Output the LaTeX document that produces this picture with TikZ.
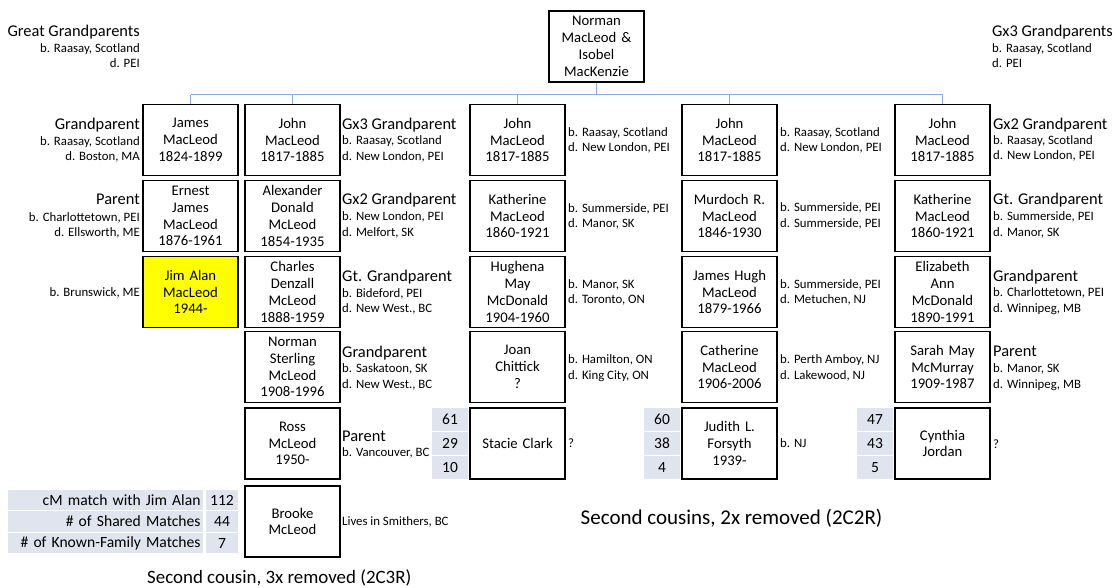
\documentclass[tikz,border=0pt]{standalone}
\usepackage{fontspec}
\setmainfont{Carlito}
\definecolor{linkblue}{HTML}{8EA9DB}
\definecolor{cellgray}{HTML}{DFE4EE}
\definecolor{selfyellow}{HTML}{FFFF00}
\begin{document}
\begin{tikzpicture}[x=1pt,y=-1pt,
  person/.style={draw=black, line width=1.1pt, minimum width=95pt, minimum height=71pt,
    inner sep=0pt, align=center, text width=92pt, font=\fontsize{14.7}{16.8}\selectfont},
  self/.style={person, fill=selfyellow},
  link/.style={draw=linkblue, line width=1pt},
  ttl/.style={inner sep=0pt, text height=11.5pt, text depth=2pt, font=\fontsize{16.4}{19}\selectfont},
  sm/.style={inner sep=0pt, text height=9pt, text depth=1.5pt, font=\fontsize{12.8}{15}\selectfont},
  numcell/.style={fill=cellgray, minimum width=36pt, minimum height=23pt, inner sep=0pt,
    font=\fontsize{15.5}{18}\selectfont},
  keycell/.style={fill=cellgray, minimum height=20.5pt, inner ysep=0pt, inner xsep=2.5pt,
    text width=190pt, align=right, font=\fontsize{15.6}{18}\selectfont},
  keynum/.style={fill=cellgray, minimum width=32pt, minimum height=20.5pt, inner sep=0pt,
    font=\fontsize{15.6}{18}\selectfont},
  caption/.style={inner sep=0pt, font=\fontsize{21}{24}\selectfont},
  Lw/.style={anchor=west}, Le/.style={anchor=east}]
\useasboundingbox (0,0) rectangle (1115,588);

% common ancestors
\node[person] (top) at (596.5,46.5) {Norman\\MacLeod \&\\Isobel\\MacKenzie};

% Jim Alan's line
\node[person] (a1) at (190.5,140) {James\\MacLeod\\1824-1899};
\node[person] (a2) at (190.5,216) {Ernest\\James\\MacLeod\\1876-1961};
\node[self]   (a3) at (190.5,292) {Jim Alan\\MacLeod\\1944-};

% Brooke's line
\node[person] (b1) at (292.5,140) {John\\MacLeod\\1817-1885};
\node[person] (b2) at (292.5,216) {Alexander\\Donald\\McLeod\\1854-1935};
\node[person] (b3) at (292.5,292) {Charles\\Denzall\\McLeod\\1888-1959};
\node[person] (b4) at (292.5,367) {Norman\\Sterling\\McLeod\\1908-1996};
\node[person] (b5) at (292.5,443.5) {Ross\\McLeod\\1950-};
\node[person] (b6) at (292.5,521.5) {Brooke\\McLeod};

% Stacie's line
\node[person] (c1) at (517.5,140) {John\\MacLeod\\1817-1885};
\node[person] (c2) at (517.5,216) {Katherine\\MacLeod\\1860-1921};
\node[person] (c3) at (517.5,292) {Hughena\\May\\McDonald\\1904-1960};
\node[person] (c4) at (517.5,367) {Joan\\Chittick\\?};
\node[person] (c5) at (517.5,443.5) {Stacie Clark};

% Judith's line
\node[person] (d1) at (729.5,140) {John\\MacLeod\\1817-1885};
\node[person] (d2) at (729.5,216) {Murdoch R.\\MacLeod\\1846-1930};
\node[person] (d3) at (729.5,292) {James Hugh\\MacLeod\\1879-1966};
\node[person] (d4) at (729.5,367) {Catherine\\MacLeod\\1906-2006};
\node[person] (d5) at (729.5,443.5) {Judith L.\\Forsyth\\1939-};

% Cynthia's line
\node[person] (e1) at (942.5,140) {John\\MacLeod\\1817-1885};
\node[person] (e2) at (942.5,216) {Katherine\\MacLeod\\1860-1921};
\node[person] (e3) at (942.5,292) {Elizabeth\\Ann\\McDonald\\1890-1991};
\node[person] (e4) at (942.5,367) {Sarah May\\McMurray\\1909-1987};
\node[person] (e5) at (942.5,443.5) {Cynthia\\Jordan};

% family bus from the common ancestors to their children
\coordinate (bus) at (596.5,95);
\draw[link] (top.south) -- (top.south |- bus);
\draw[link] (a1.north |- bus) -- (e1.north |- bus);
\foreach \n in {a1,b1,c1,d1,e1} \draw[link] (\n.north) -- (\n.north |- bus);

% generation labels, top corners
\node[ttl,Le] (gg-t) at (140,32) {Great Grandparents};
\node[sm,Le]  (gg-b) at (140,49) {b. Raasay, Scotland};
\node[sm,Le]  (gg-d) at (140,64) {d. PEI};
\node[ttl,Lw] (g3-t) at (992,32) {Gx3 Grandparents};
\node[sm,Lw]  (g3-b) at (992,49) {b. Raasay, Scotland};
\node[sm,Lw]  (g3-d) at (992,64) {d. PEI};

% labels left of Jim Alan's line
\node[ttl,Le] (a1-t) at (140,124.5) {Grandparent};
\node[sm,Le]  (a1-b) at (140,141.5) {b. Raasay, Scotland};
\node[sm,Le]  (a1-d) at (140,157) {d. Boston, MA};
\node[ttl,Le] (a2-t) at (140,200) {Parent};
\node[sm,Le]  (a2-b) at (140,217.5) {b. Charlottetown, PEI};
\node[sm,Le]  (a2-d) at (140,233) {d. Ellsworth, ME};
\node[sm,Le]  (a3-b) at (140,293) {b. Brunswick, ME};

% labels right of Brooke's line
\node[ttl,Lw] (b1-t) at (342,125) {Gx3 Grandparent};
\node[sm,Lw]  (b1-b) at (342,141) {b. Raasay, Scotland};
\node[sm,Lw]  (b1-d) at (342,157) {d. New London, PEI};
\node[ttl,Lw] (b2-t) at (342,200) {Gx2 Grandparent};
\node[sm,Lw]  (b2-b) at (342,217) {b. New London, PEI};
\node[sm,Lw]  (b2-d) at (342,233) {d. Melfort, SK};
\node[ttl,Lw] (b3-t) at (342,277) {Gt. Grandparent};
\node[sm,Lw]  (b3-b) at (342,294) {b. Bideford, PEI};
\node[sm,Lw]  (b3-d) at (342,309) {d. New West., BC};
\node[ttl,Lw] (b4-t) at (342,353) {Grandparent};
\node[sm,Lw]  (b4-b) at (342,369) {b. Saskatoon, SK};
\node[sm,Lw]  (b4-d) at (342,385) {d. New West., BC};
\node[ttl,Lw] (b5-t) at (342,437) {Parent};
\node[sm,Lw]  (b5-b) at (342,453) {b. Vancouver, BC};
\node[sm,Lw]  (b6-l) at (342,522) {Lives in Smithers, BC};

% labels right of Stacie's line
\node[sm,Lw] (c1-b) at (568,133) {b. Raasay, Scotland};
\node[sm,Lw] (c1-d) at (568,148) {d. New London, PEI};
\node[sm,Lw] (c2-b) at (568,209) {b. Summerside, PEI};
\node[sm,Lw] (c2-d) at (568,224) {d. Manor, SK};
\node[sm,Lw] (c3-b) at (568,285) {b. Manor, SK};
\node[sm,Lw] (c3-d) at (568,300) {d. Toronto, ON};
\node[sm,Lw] (c4-b) at (568,360) {b. Hamilton, ON};
\node[sm,Lw] (c4-d) at (568,376) {d. King City, ON};
\node[sm,Lw] (c5-q) at (568,444) {?};

% labels right of Judith's line
\node[sm,Lw] (d1-b) at (780,133) {b. Raasay, Scotland};
\node[sm,Lw] (d1-d) at (780,148) {d. New London, PEI};
\node[sm,Lw] (d2-b) at (780,208) {b. Summerside, PEI};
\node[sm,Lw] (d2-d) at (780,224) {d. Summerside, PEI};
\node[sm,Lw] (d3-b) at (780,285) {b. Summerside, PEI};
\node[sm,Lw] (d3-d) at (780,300) {d. Metuchen, NJ};
\node[sm,Lw] (d4-b) at (780,360) {b. Perth Amboy, NJ};
\node[sm,Lw] (d4-d) at (780,376) {d. Lakewood, NJ};
\node[sm,Lw] (d5-b) at (780,444) {b. NJ};

% labels right of Cynthia's line
\node[ttl,Lw] (e1-t) at (993,125) {Gx2 Grandparent};
\node[sm,Lw]  (e1-b) at (993,141) {b. Raasay, Scotland};
\node[sm,Lw]  (e1-d) at (993,156) {d. New London, PEI};
\node[ttl,Lw] (e2-t) at (993,200) {Gt. Grandparent};
\node[sm,Lw]  (e2-b) at (993,217) {b. Summerside, PEI};
\node[sm,Lw]  (e2-d) at (993,233) {d. Manor, SK};
\node[ttl,Lw] (e3-t) at (993,277) {Grandparent};
\node[sm,Lw]  (e3-b) at (993,293) {b. Charlottetown, PEI};
\node[sm,Lw]  (e3-d) at (993,309) {d. Winnipeg, MB};
\node[ttl,Lw] (e4-t) at (993,352) {Parent};
\node[sm,Lw]  (e4-b) at (993,369) {b. Manor, SK};
\node[sm,Lw]  (e4-d) at (993,385) {d. Winnipeg, MB};
\node[sm,Lw]  (e5-q) at (993,445) {?};

% DNA match figures beside each cousin
\node[numcell] (c5-cm) at (450,419.5) {61};
\node[numcell] (c5-sh) at (450,443.5) {29};
\node[numcell] (c5-kf) at (450,467.5) {10};
\node[numcell] (d5-cm) at (662,419.5) {60};
\node[numcell] (d5-sh) at (662,443.5) {38};
\node[numcell] (d5-kf) at (662,467.5) {4};
\node[numcell] (e5-cm) at (875,419.5) {47};
\node[numcell] (e5-sh) at (875,443.5) {43};
\node[numcell] (e5-kf) at (875,467.5) {5};

% key table with Brooke's figures
\node[keycell] (k1) at (105.5,500) {cM match with Jim Alan};
\node[keycell] (k2) at (105.5,521.5) {\# of Shared Matches};
\node[keycell] (k3) at (105.5,543) {\# of Known-Family Matches};
\node[keynum]  (k1n) at (222,500) {112};
\node[keynum]  (k2n) at (222,521.5) {44};
\node[keynum]  (k3n) at (222,543) {7};

% relationship captions
\node[caption] (cap2) at (731.5,518) {Second cousins, 2x removed (2C2R)};
\node[caption,anchor=west,font=\fontsize{18.9}{22}\selectfont] (cap3) at (147,578) {Second cousin, 3x removed (2C3R)};
\end{tikzpicture}
\end{document}
